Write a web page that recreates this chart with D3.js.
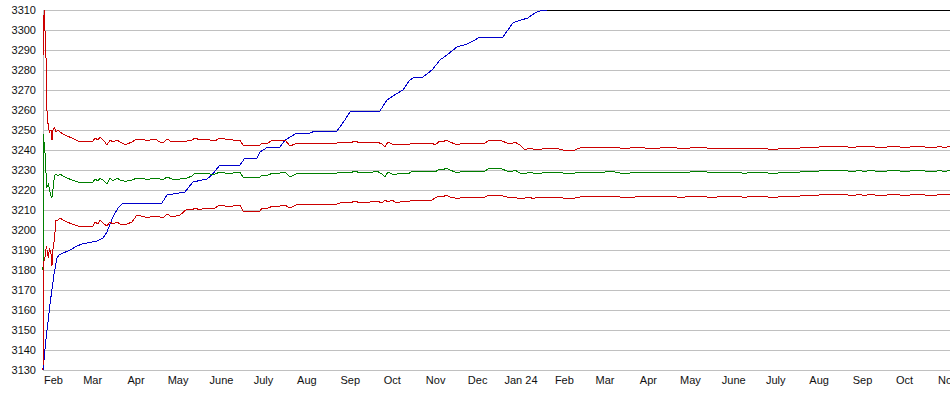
<!DOCTYPE html>
<html>
<head>
<meta charset="utf-8">
<script src="https://cdn.jsdelivr.net/npm/d3@7"></script>
<style>
  body { margin: 0; background: #fff; }
  text { font-family: "Liberation Sans", Arial, sans-serif; font-size: 11px; fill: #111; }
</style>
</head>
<body>
<script>
// x values are days counted from startDate
var startDate = '2023-02-01',
    endDate = '2024-11-10';

var yTicks = [3130, 3140, 3150, 3160, 3170, 3180, 3190, 3200, 3210, 3220,
              3230, 3240, 3250, 3260, 3270, 3280, 3290, 3300, 3310];
var monthNames = ['Jan', 'Feb', 'Mar', 'Apr', 'May', 'June', 'July', 'Aug', 'Sep', 'Oct', 'Nov', 'Dec'];

var bandDays = [0, 0.4, 0.9, 1.4, 2, 2.6, 3.2, 3.9, 4.6, 5.7, 6.4, 7.1, 8.2, 9.3, 10.7, 12.1, 14.3, 17.1, 20.7, 25,
  30, 35.7, 37.1, 39.3, 40.7, 43.6, 45.7, 47.9, 50, 52.9, 55, 57.9, 60, 63.6, 67.1, 72.9, 76.4, 80, 83.6, 86.4,
  88.6, 92.1, 97.9, 102.9, 106.4, 108.6, 112.1, 115.7, 119.3, 122.9, 126.4, 130, 135.7, 140.7, 142.9, 147.9, 155, 156.4, 160.7, 164.3,
  169.3, 172.9, 176.4, 182.1, 190.7, 207.1, 208.6, 212.1, 215.7, 219.3, 222.9, 226.4, 230, 233.6, 238.6, 242.1, 244.3, 246.4, 249.3, 252.9,
  257.1, 260.7, 264.3, 269.3, 277.9, 280, 283.6, 285.7, 287.9, 290.7, 294.3, 296.4, 299.3, 302.9, 312.1, 315.7, 319.3, 326.4, 331.4, 335,
  337.1, 340.7, 342.9, 344.3, 347.9, 350, 352.9, 355, 358.6, 365.7, 371.4, 380, 383.6, 390.7, 397.9, 405, 412.1, 419.3, 426.4, 433.6,
  440.7, 451.4, 455, 462.1, 469.3, 480, 483.6, 497.9, 501.4, 505, 512.1, 524.3, 526.4, 540.7, 567.9, 572.9, 577.9, 583.6, 587.1, 590.7,
  597.9, 608.6, 615.7, 622.9, 630, 637.1, 640.7, 644.3, 647.9];

var upperValues = [3287, 3303, 3310, 3300, 3294, 3262, 3256, 3251, 3249, 3250, 3245, 3250, 3251, 3249, 3250, 3249, 3248, 3247, 3246, 3244.5,
  3244.5, 3244.5, 3246, 3245, 3246.5, 3244.5, 3242.5, 3245, 3244, 3245, 3244, 3243, 3243, 3244, 3245.5, 3245, 3245, 3245.5, 3244, 3244,
  3245.5, 3244, 3244.5, 3244.5, 3245, 3246, 3245, 3245.5, 3245, 3244.5, 3246, 3245.5, 3245, 3245, 3242.5, 3242.5, 3242.5, 3243.5, 3243.5, 3245,
  3244.5, 3245, 3242, 3243.5, 3243.5, 3243.5, 3243, 3244, 3244, 3243.5, 3244.5, 3243.5, 3244, 3243.5, 3244, 3243, 3241.5, 3244, 3243, 3242.5,
  3243, 3242.5, 3243.5, 3243.5, 3243.5, 3242.5, 3244.5, 3244, 3245, 3244, 3243, 3242.5, 3243.5, 3243.5, 3243.5, 3243.5, 3245, 3245, 3243.5, 3243,
  3244, 3242.5, 3241, 3240, 3241, 3240.5, 3240.5, 3240, 3241, 3241, 3240, 3240, 3241, 3241.5, 3241, 3241.5, 3241, 3241, 3241.5, 3240.5,
  3241, 3241.5, 3240.5, 3241, 3241.5, 3240.5, 3241, 3241, 3240.5, 3241, 3241, 3240, 3241, 3241, 3242, 3242, 3241, 3242, 3241.5, 3242,
  3241, 3242, 3241, 3242, 3241.5, 3241, 3242, 3241, 3242];

var meanValues = [3180, 3248, 3242, 3239, 3231, 3221, 3222, 3223, 3220, 3217, 3216, 3220, 3227, 3228, 3227, 3228, 3227, 3226, 3225, 3224,
  3224, 3224, 3225.5, 3224.5, 3226, 3224.5, 3223, 3226, 3224.5, 3226, 3225, 3224.5, 3224.5, 3225, 3226, 3225.5, 3225.5, 3226, 3225.5, 3225.5,
  3226.5, 3225.5, 3225.5, 3226, 3227, 3228.5, 3228, 3228.5, 3228, 3228, 3229, 3228.5, 3228.5, 3229, 3226.5, 3226.5, 3226.5, 3227.5, 3227.5, 3228.5,
  3228.5, 3229, 3226.5, 3228.5, 3228.5, 3228.5, 3228, 3229, 3229, 3228.5, 3229.5, 3228.5, 3229, 3228.5, 3229.5, 3228, 3226.5, 3229, 3228, 3228,
  3228.5, 3228, 3229.5, 3229.5, 3229.5, 3229, 3230.5, 3230, 3231, 3230, 3229, 3228.5, 3229.5, 3229.5, 3229.5, 3229.5, 3231, 3231, 3229.5, 3229,
  3230, 3228.5, 3228.5, 3228, 3229, 3228.5, 3228.5, 3228, 3229, 3229, 3228.5, 3228.5, 3229, 3229, 3228.5, 3229.5, 3228.5, 3228.5, 3229, 3228.5,
  3229, 3229, 3228.5, 3229, 3229.5, 3228.5, 3229, 3229, 3228, 3229, 3229, 3228, 3229, 3229, 3230, 3230, 3229, 3230, 3229, 3230,
  3229, 3230, 3229, 3230, 3229.5, 3229, 3230, 3229, 3230];

var lowerValues = [3130, 3183, 3185, 3186, 3190, 3192, 3188, 3186, 3191, 3188, 3182, 3190, 3196, 3205, 3205, 3206, 3205, 3204, 3203, 3202,
  3202, 3202, 3204, 3203, 3205, 3203, 3202, 3204, 3203, 3204, 3203, 3203, 3203, 3204, 3207.5, 3206.5, 3206.5, 3207, 3206.5, 3206.5,
  3208, 3206.5, 3207.5, 3210.5, 3210, 3211, 3210, 3211, 3210.5, 3211, 3212.5, 3212, 3212, 3212.5, 3209.5, 3209.5, 3209.5, 3211, 3211, 3212,
  3212, 3212.5, 3211, 3213, 3213, 3213, 3212.5, 3213.5, 3214, 3213.5, 3214.5, 3213.5, 3214, 3214, 3214.5, 3213.5, 3215, 3214, 3215, 3213.5,
  3214.5, 3214, 3215, 3215, 3215, 3216, 3217, 3216.5, 3217.5, 3216.5, 3216, 3215.5, 3216.5, 3216.5, 3216.5, 3216.5, 3217.5, 3217.5, 3216.5, 3216,
  3216.5, 3215.5, 3216, 3216, 3216.5, 3215.5, 3216.5, 3216, 3216.5, 3216.5, 3216, 3216, 3216.5, 3217, 3216.5, 3217, 3216.5, 3216, 3217, 3216.5,
  3217, 3217, 3216, 3217, 3217, 3216, 3217, 3217, 3216, 3217, 3217, 3216, 3217, 3217, 3218, 3218, 3217, 3218, 3217, 3218,
  3217, 3218, 3217, 3218, 3217.5, 3217, 3218, 3217.5, 3218];

var blueDays = [0, 2.1, 5, 7.9, 10, 11.4, 14.3, 17.9, 20.7, 24.3, 27.9, 35, 38.6, 42.9, 45.7, 50, 53.6, 57.1, 85, 88.6,
  101.4, 107.1, 117.1, 120.7, 126.4, 140.7, 144.3, 152.9, 155, 160.7, 169.3, 172.9, 177.9, 181.4, 190.7, 194.3, 210, 212.1, 215.7, 219.3,
  240.7, 245.7, 250, 257.1, 262.1, 264.3, 271.4, 277.9, 283.6, 288.6, 295.7, 302.9, 308.6, 312.1, 328.6, 332.1, 335.7, 339.3, 346.4, 351.4,
  355, 360];
var blueValues = [3130, 3145, 3163, 3178, 3186, 3187.5, 3188.5, 3189.5, 3190.5, 3192, 3193, 3194, 3194.5, 3196, 3199, 3206.5, 3211, 3213.5, 3213.5, 3217.5,
  3219, 3224, 3225.5, 3227.5, 3232.5, 3232.5, 3236, 3236, 3239, 3241.5, 3241.5, 3245, 3247, 3248.5, 3248.5, 3249.5, 3249.5, 3251.5, 3255, 3259,
  3259.5, 3265, 3267, 3270, 3275, 3276, 3276.5, 3280, 3285, 3287.5, 3291.5, 3293, 3295, 3296.5, 3296.5, 3300, 3303.5, 3304.5, 3306, 3308.5,
  3309.5, 3310];

var maxDays = [360, 647.9];
var maxValues = [3310, 3310];

var outerWidth = 950,
    outerHeight = 395,
    margin = {left: 43, right: 0, top: 10, bottom: 25},
    innerWidth = outerWidth - margin.left - margin.right,
    innerHeight = outerHeight - margin.top - margin.bottom;

var t0 = new Date(startDate + 'T00:00:00Z'),
    t1 = new Date(endDate + 'T00:00:00Z');
function dayToDate(d) { return new Date(t0.getTime() + d * 864e5); }

var svg = d3.select('body').append('svg')
  .attr('width', outerWidth)
  .attr('height', outerHeight);

var g = svg.append('g')
  .attr('transform', 'translate(' + margin.left + ',' + margin.top + ')');

var xScale = d3.scaleUtc().domain([t0, t1]).range([0, innerWidth]);
var yScale = d3.scaleLinear().domain([yTicks[0], yTicks[yTicks.length - 1]]).range([innerHeight, 0]);

// grid + y labels
var yAxis = g.append('g')
  .call(d3.axisLeft(yScale).tickValues(yTicks).tickSize(-innerWidth).tickPadding(7).tickFormat(d3.format('d')));
yAxis.select('.domain').remove();
yAxis.selectAll('line').attr('stroke', '#c0c0c0').attr('shape-rendering', 'crispEdges');
yAxis.selectAll('text').attr('font-size', 11).attr('font-family', '"Liberation Sans", Arial, sans-serif').attr('fill', '#111');

g.append('line')
  .attr('x1', 0).attr('x2', 0).attr('y1', 0).attr('y2', innerHeight)
  .attr('stroke', '#c0c0c0').attr('shape-rendering', 'crispEdges');

// month labels
var xAxis = g.append('g')
  .attr('transform', 'translate(0,' + innerHeight + ')')
  .call(d3.axisBottom(xScale).ticks(d3.utcMonth.every(1)).tickSize(0).tickPadding(6)
    .tickFormat(function(d) {
      var m = d.getUTCMonth();
      return m === 0 ? monthNames[m] + ' ' + d3.utcFormat('%y')(d) : monthNames[m];
    }));
xAxis.select('.domain').remove();
xAxis.selectAll('text')
  .attr('dx', 10)
  .attr('font-size', 11).attr('font-family', '"Liberation Sans", Arial, sans-serif').attr('fill', '#111');

function series(days, values) {
  return days.map(function(d, i) { return {date: dayToDate(d), value: values[i]}; });
}

var line = d3.line()
  .x(function(d) { return xScale(d.date); })
  .y(function(d) { return yScale(d.value); });

var lines = [
  {data: series(blueDays, blueValues), color: '#0000cc'},
  {data: series(maxDays, maxValues), color: '#000000'},
  {data: series(bandDays, upperValues), color: '#cc0000'},
  {data: series(bandDays, meanValues), color: '#007f00'},
  {data: series(bandDays, lowerValues), color: '#cc0000'}
];

g.selectAll('path.series').data(lines).enter().append('path')
  .attr('class', 'series')
  .attr('fill', 'none')
  .attr('stroke', function(d) { return d.color; })
  .attr('stroke-width', 1)
  .attr('shape-rendering', 'crispEdges')
  .attr('d', function(d) { return line(d.data); });
</script>
</body>
</html>
